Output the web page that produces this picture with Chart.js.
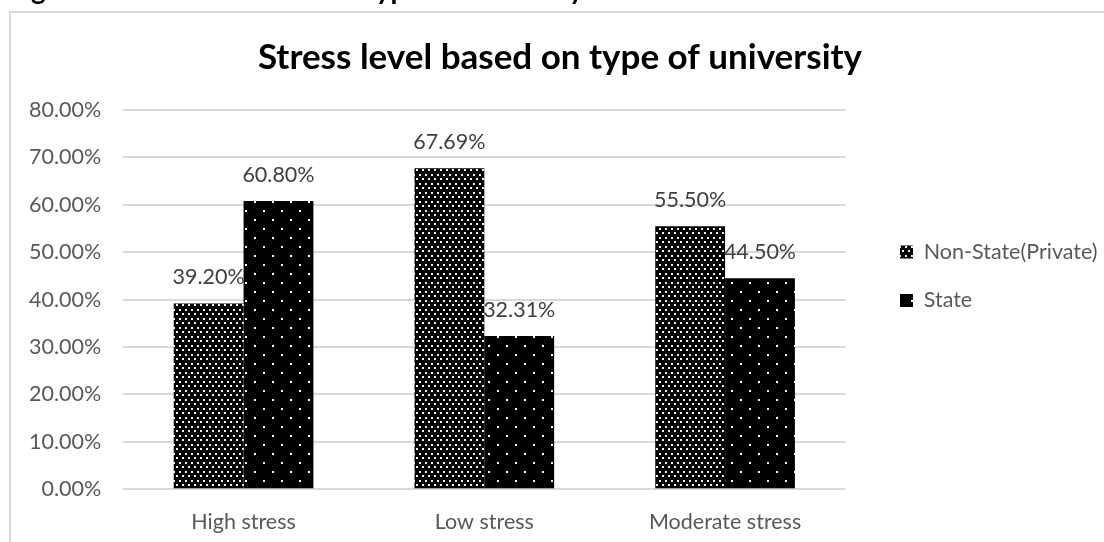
<!DOCTYPE html>
<html><head><meta charset="utf-8">
<script src="https://cdn.jsdelivr.net/npm/chart.js@4.4.1/dist/chart.umd.min.js"></script>
<style>
html,body{margin:0;padding:0;background:#fff;overflow:hidden;width:1104px;height:542px;}
#cap{position:absolute;left:0;top:0;}
#frame{position:absolute;left:9px;top:11px;width:1110px;height:560px;border:2px solid #d9d9d9;box-sizing:border-box;}
#wrap{position:absolute;left:11px;top:12px;width:1100px;height:530px;}
</style></head><body>
<canvas id="cap" width="1104" height="11"></canvas>
<div id="frame"></div>
<div id="wrap"><canvas id="c" width="1100" height="530"></canvas></div>
<script>
const captionText = 'Figure: Stress level based on type of university';
const chartTitle = 'Stress level based on type of university';
const categories = ['High stress', 'Low stress', 'Moderate stress'];
const seriesNames = ['Non-State(Private)', 'State'];
const nonStateValues = [39.20, 67.69, 55.50];
const stateValues = [60.80, 32.31, 44.50];
const yMin = 0, yMax = 80, yStep = 10;

const FONT = 'Lato';
const LABEL_SIZE = 21.5;
const X_PAD = 20, Y_PAD = 22;

// figure caption above the chart frame (cut off by the page edge, as in the source)
(function () {
  const cc = document.getElementById('cap').getContext('2d');
  cc.font = 'bold 28px ' + FONT;
  cc.fillStyle = '#000';
  cc.textBaseline = 'alphabetic';
  cc.fillText(captionText, 8, -1);
})();

const canvas = document.getElementById('c');
const mainCtx = canvas.getContext('2d');
function makePattern(w, h, dots, size, dotColor) {
  const t = document.createElement('canvas');
  t.width = w; t.height = h;
  const g = t.getContext('2d');
  g.fillStyle = '#000'; g.fillRect(0, 0, w, h);
  g.fillStyle = dotColor;
  dots.forEach(([x, y]) => g.fillRect(x, y, size, size));
  return mainCtx.createPattern(t, 'repeat');
}
const densePattern = makePattern(6, 9, [[0, 0], [3, 4]], 2, '#f0f0f0');
const sparsePattern = makePattern(18, 18, [[0, 0], [9, 9]], 2, '#ffffff');

const dataLabels = {
  id: 'dataLabels',
  afterDatasetsDraw(chart) {
    const ctx = chart.ctx;
    ctx.save();
    ctx.font = LABEL_SIZE + 'px ' + FONT;
    ctx.fillStyle = '#404040';
    ctx.textAlign = 'center';
    ctx.textBaseline = 'middle';
    chart.data.datasets.forEach((ds, i) => {
      chart.getDatasetMeta(i).data.forEach((bar, j) => {
        ctx.fillText(ds.data[j].toFixed(2) + '%', bar.x, bar.y - 26);
      });
    });
    ctx.restore();
  }
};

const legendPlace = {
  id: 'legendPlace',
  beforeLayout(chart) {
    const l = chart.legend;
    if (l && !l._widened) {
      const f = l.fit;
      l.fit = function () { f.call(this); this.width += 11; };
      l._widened = true;
    }
  },
  afterLayout(chart) {
    const l = chart.legend;
    if (!l) return;
    const p = l.options.labels.padding;
    const newLeft = 889 - p;
    l.right += newLeft - l.left; l.left = newLeft;
    const newTop = 240 - p - LABEL_SIZE / 2;
    l.bottom += newTop - l.top; l.top = newTop;
  }
};

new Chart(canvas, {
  type: 'bar',
  data: {
    labels: categories,
    datasets: [
      { label: seriesNames[0], data: nonStateValues, backgroundColor: densePattern, borderWidth: 0 },
      { label: seriesNames[1], data: stateValues, backgroundColor: sparsePattern, borderWidth: 0 }
    ]
  },
  options: {
    responsive: false,
    animation: false,
    events: [],
    layout: { padding: { left: 18, right: 20, top: 0, bottom: 7 } },
    datasets: { bar: { categoryPercentage: 0.58, barPercentage: 1.0 } },
    plugins: {
      title: {
        display: true, text: chartTitle, color: '#000',
        font: { family: FONT, size: 35, weight: 'bold' },
        padding: { top: 25, bottom: 31 }
      },
      legend: {
        display: true, position: 'right', align: 'start',
        labels: {
          color: '#595959', font: { family: FONT, size: LABEL_SIZE },
          boxWidth: 13, boxHeight: 13, padding: 27
        }
      },
      tooltip: { enabled: false }
    },
    scales: {
      x: {
        grid: { display: false, drawTicks: false },
        border: { display: false },
        ticks: { color: '#595959', font: { family: FONT, size: LABEL_SIZE }, padding: X_PAD },
        afterFit: s => { s.height -= X_PAD; }
      },
      y: {
        min: yMin, max: yMax,
        grid: { color: '#d9d9d9', lineWidth: 2, drawTicks: false },
        border: { display: false },
        ticks: {
          stepSize: yStep, color: '#595959', font: { family: FONT, size: LABEL_SIZE }, padding: Y_PAD,
          callback: v => Number(v).toFixed(2) + '%'
        },
        afterFit: s => { s.width -= Y_PAD; }
      }
    }
  },
  plugins: [dataLabels, legendPlace]
});
</script>
</body></html>
